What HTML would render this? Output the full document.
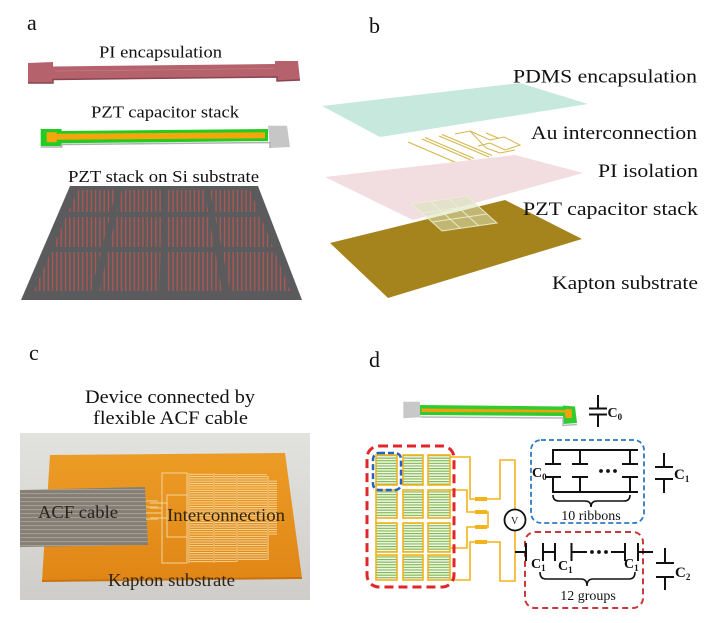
<!DOCTYPE html>
<html><head><meta charset="utf-8"><style>
html,body{margin:0;padding:0;background:#fff;}
svg{display:block;}
text{font-family:"Liberation Serif","Times New Roman",serif;fill:#111;}
</style></head><body>
<svg width="720" height="623" viewBox="0 0 720 623" xmlns="http://www.w3.org/2000/svg" font-family="Liberation Serif, serif">
<defs>
<pattern id="rs" width="4.3" height="10" patternUnits="userSpaceOnUse"><rect x="0.4" width="1.2" height="10" fill="#b85650"/></pattern>
<pattern id="gs" width="10" height="2.6" patternUnits="userSpaceOnUse"><rect width="10" height="2.6" fill="#f3f8ec"/><rect width="10" height="1.1" fill="#7db64a"/></pattern>
<pattern id="cs" width="10" height="2.3" patternUnits="userSpaceOnUse"><rect width="10" height="0.9" fill="#f6dba6"/></pattern>
<pattern id="ac" width="10" height="4" patternUnits="userSpaceOnUse"><rect width="10" height="4" fill="#857e74"/><rect y="1" width="10" height="1.1" fill="#a59e94"/></pattern>
<linearGradient id="bg" x1="0" y1="0" x2="0" y2="1"><stop offset="0" stop-color="#e2e2df"/><stop offset="1" stop-color="#cfcdc9"/></linearGradient>
<linearGradient id="kp" x1="0" y1="0" x2="0" y2="1"><stop offset="0" stop-color="#ec9c26"/><stop offset="1" stop-color="#e08616"/></linearGradient>
</defs>

<!-- ============ PANEL A ============ -->
<text x="27" y="30" font-size="22">a</text>
<text x="99" y="57.5" font-size="17" textLength="123" lengthAdjust="spacingAndGlyphs">PI encapsulation</text>
<polygon points="28,63 53,62 53,66.5 275,64 275,61 298,61 300,80 277,81 277,77 53,79.5 53,83.5 28,83.5" fill="#b5626c"/>
<polyline points="28,83 53,83 53,79.5 277,77 277,81 300,80" fill="none" stroke="#8a4550" stroke-width="1.5"/>
<line x1="55" y1="71" x2="274" y2="68.5" stroke="#c07a82" stroke-width="0.8"/>

<text x="91" y="117.5" font-size="17" textLength="148" lengthAdjust="spacingAndGlyphs">PZT capacitor stack</text>
<polygon points="268,125.7 287,125.7 290,147 270,148" fill="#c6c6c6"/>
<polygon points="40.7,129 61.7,129 61.7,131 268,129 268,141 61.7,143.3 61.7,146 40.7,146" fill="#22cc22"/>
<polyline points="40.7,147 61.7,147 61.7,144.5 270,142.5 270,148" fill="none" stroke="#b0b0b0" stroke-width="1.5"/>
<polygon points="46.7,132.3 56.7,132.3 56.7,133.7 265,132.3 265,138.3 56.7,139.7 56.7,142.3 46.7,142.3" fill="#f5a60c"/>

<text x="68" y="182" font-size="17" textLength="191" lengthAdjust="spacingAndGlyphs">PZT stack on Si substrate</text>
<polygon points="70,186 258,186 302,300 21,300" fill="#5b5b5d"/>
<g fill="url(#rs)">
<polygon points="77.7,190 116.3,190 110.9,212 68.2,212"/>
<polygon points="121.7,190 162.2,190 161.6,212 116.9,212"/>
<polygon points="166.6,190 204.4,190 208.3,212 166.6,212"/>
<polygon points="209.8,190 250.2,190 259,212 214.3,212"/>
<polygon points="66,217 109.6,217 102.1,247 52.9,247"/>
<polygon points="115.7,217 161.4,217 160.6,247 109,247"/>
<polygon points="166.5,217 209.1,217 214.4,247 166.3,247"/>
<polygon points="215.2,217 260.9,217 272.8,247 221.3,247"/>
<polygon points="50.8,252 100.9,252 91.3,291 33.8,291"/>
<polygon points="108,252 160.5,252 159.4,291 99.3,291"/>
<polygon points="166.3,252 215.3,252 222.1,291 166.1,291"/>
<polygon points="222.3,252 274.8,252 290.3,291 230.2,291"/>
</g>

<!-- ============ PANEL B ============ -->
<text x="369" y="33" font-size="22">b</text>
<polygon points="322,106 520,83 588,104 380,137" fill="#c7e8dc"/>
<text x="513" y="82.5" font-size="19" textLength="184" lengthAdjust="spacingAndGlyphs">PDMS encapsulation</text>

<g stroke="#d4b548" stroke-width="1" fill="none">
<line x1="408" y1="142" x2="457" y2="163"/>
<line x1="422" y1="139" x2="471" y2="160"/>
<line x1="425" y1="137.5" x2="474" y2="158.5"/>
<line x1="439" y1="136" x2="489" y2="157"/>
<line x1="442" y1="134.5" x2="492" y2="155.5"/>
<polyline points="455,134 470,131 490,140 504,137 520,145 505,150 490,143 478,146"/>
<polyline points="470,131 486,148 500,153 515,150"/>
<line x1="486" y1="133" x2="498" y2="138"/>
</g>
<text x="531" y="139" font-size="19" textLength="166" lengthAdjust="spacingAndGlyphs">Au interconnection</text>

<polygon points="325,177 515,155 583,173 413,220" fill="#f2dde0"/>
<text x="598" y="177" font-size="19" textLength="100" lengthAdjust="spacingAndGlyphs">PI isolation</text>

<polygon points="330,243 505,200 582,239 388,298" fill="#a6841d"/>
<polygon points="412,204 467,196 497,223 442,231" fill="rgba(215,225,185,0.55)"/>
<g stroke="#eef0d0" stroke-width="1" fill="none" opacity="0.9">
<line x1="430.3" y1="201.3" x2="460.3" y2="228.3"/>
<line x1="448.7" y1="198.7" x2="478.7" y2="225.7"/>
<line x1="422" y1="213" x2="477" y2="205"/>
<line x1="432" y1="222" x2="487" y2="214"/>
<polygon points="412,204 467,196 497,223 442,231"/>
</g>
<text x="523" y="215" font-size="19" textLength="175" lengthAdjust="spacingAndGlyphs">PZT capacitor stack</text>
<text x="552" y="289" font-size="19" textLength="146" lengthAdjust="spacingAndGlyphs">Kapton substrate</text>

<!-- ============ PANEL C ============ -->
<text x="29" y="360" font-size="22">c</text>
<text x="85" y="403" font-size="19" textLength="170" lengthAdjust="spacingAndGlyphs">Device connected by</text>
<text x="93" y="424" font-size="19" textLength="155" lengthAdjust="spacingAndGlyphs">flexible ACF cable</text>
<rect x="20" y="433" width="290" height="167" fill="url(#bg)"/>
<polygon points="50,455 285,453 302,578 42,581" fill="url(#kp)"/>
<polyline points="42,581 302,578" stroke="#c87312" stroke-width="2" fill="none"/>
<g stroke="#f2d49a" stroke-width="1" fill="none">
<rect x="162" y="473" width="25" height="90"/>
<rect x="167" y="495" width="20" height="42"/>
<line x1="150" y1="503" x2="167" y2="503"/>
<line x1="150" y1="508" x2="162" y2="508"/>
<line x1="150" y1="513" x2="162" y2="513"/>
<line x1="150" y1="518" x2="167" y2="518"/>
<line x1="189" y1="473" x2="189" y2="563"/>
<line x1="214" y1="473" x2="214" y2="563"/>
<line x1="237" y1="474" x2="237" y2="562"/>
<line x1="268" y1="476" x2="268" y2="560"/>
</g>
<rect x="190" y="473" width="23" height="90" fill="url(#cs)"/>
<rect x="215" y="474" width="21" height="88" fill="url(#cs)"/>
<rect x="238" y="474" width="29" height="86" fill="url(#cs)"/>
<rect x="269" y="480" width="8" height="55" fill="url(#cs)"/>
<polygon points="20,490 145,487 148,545 20,547" fill="url(#ac)"/>
<g stroke="#e8c27a" stroke-width="1.4">
<line x1="146" y1="501" x2="158" y2="501"/>
<line x1="146" y1="507" x2="158" y2="507"/>
<line x1="146" y1="513" x2="158" y2="513"/>
<line x1="146" y1="519" x2="158" y2="519"/>
</g>
<text x="38" y="518" font-size="18" textLength="80" lengthAdjust="spacingAndGlyphs" style="fill:#262320">ACF cable</text>
<text x="167" y="521" font-size="18" textLength="118" lengthAdjust="spacingAndGlyphs" style="fill:#2e2412">Interconnection</text>
<text x="108" y="586" font-size="18" textLength="127" lengthAdjust="spacingAndGlyphs" style="fill:#2e2412">Kapton substrate</text>

<!-- ============ PANEL D ============ -->
<text x="369" y="367" font-size="22">d</text>
<polygon points="403.3,401.7 420,401.7 420.7,417.3 403.3,418.3" fill="#c8c8c8"/>
<polygon points="420,405 563,406.5 563,405.5 575,406.5 577,423 563,424 563,416 420,415" fill="#2ecc2e"/>
<polyline points="420.7,417 563,418 563,425.5 577,424.5" fill="none" stroke="#b8b8b8" stroke-width="1.4"/>
<polygon points="421.5,408.5 565,410 565,412.5 421.5,412" fill="#f0a20e"/>
<rect x="565" y="409" width="7" height="9" rx="2" fill="#f0a20e"/>
<g stroke="#111" stroke-width="2">
<line x1="598" y1="395" x2="598" y2="408.5"/>
<line x1="589" y1="408.5" x2="607" y2="408.5"/>
<line x1="589" y1="414.5" x2="607" y2="414.5"/>
<line x1="598" y1="414.5" x2="598" y2="427"/>
</g>
<text x="607.5" y="417" font-size="14" font-weight="bold">C<tspan font-size="9" dy="3">0</tspan></text>

<g stroke="#f2b31b" stroke-width="1.6" fill="url(#gs)">
<rect x="376" y="455" width="21" height="30"/><rect x="403" y="455" width="20" height="30"/><rect x="428" y="455" width="22" height="30"/>
<rect x="376" y="490" width="21" height="28"/><rect x="403" y="490" width="20" height="28"/><rect x="428" y="490" width="22" height="28"/>
<rect x="376" y="523" width="21" height="29"/><rect x="403" y="523" width="20" height="29"/><rect x="428" y="523" width="22" height="29"/>
<rect x="376" y="555" width="21" height="25"/><rect x="403" y="555" width="20" height="25"/><rect x="428" y="555" width="22" height="25"/>
</g>
<g stroke="#f2b31b" stroke-width="1.6" fill="none">
<line x1="376" y1="485" x2="376" y2="490"/><line x1="376" y1="518" x2="376" y2="523"/><line x1="376" y1="552" x2="376" y2="555"/>
<polyline points="450,457 470,457 470,499 488,499"/>
<polyline points="450,490 467,490 467,512 488,512 488,527 467,527 467,548 450,548"/>
<polyline points="450,580 470,580 470,542 488,542"/>
<polyline points="488,499 500,499 500,460 515,460 515,581 500,581 500,542 488,542"/>
</g>
<g stroke="#f2b31b" stroke-width="4">
<line x1="475" y1="499" x2="487" y2="499"/><line x1="475" y1="512" x2="487" y2="512"/>
<line x1="475" y1="527" x2="487" y2="527"/><line x1="475" y1="542" x2="487" y2="542"/>
</g>
<circle cx="515" cy="520" r="10.5" fill="#fff" stroke="#111" stroke-width="1.8"/>
<text x="511" y="524" font-size="10">V</text>

<rect x="367" y="446" width="87" height="141" rx="12" fill="none" stroke="#e0262b" stroke-width="3" stroke-dasharray="9,5"/>
<rect x="373" y="453" width="28" height="37" rx="6" fill="none" stroke="#2462bf" stroke-width="2.5" stroke-dasharray="6,3"/>

<rect x="531" y="440" width="113" height="83" rx="10" fill="none" stroke="#2b7bc4" stroke-width="1.8" stroke-dasharray="5,3"/>
<g stroke="#111" stroke-width="2" fill="none">
<polyline points="553,464 553,450 638,450"/>
<line x1="580" y1="450" x2="580" y2="464"/>
<line x1="630" y1="450" x2="630" y2="464"/>
<line x1="545" y1="464" x2="561" y2="464"/><line x1="572" y1="464" x2="588" y2="464"/><line x1="622" y1="464" x2="638" y2="464"/>
<line x1="545" y1="477" x2="561" y2="477"/><line x1="572" y1="477" x2="588" y2="477"/><line x1="622" y1="477" x2="638" y2="477"/>
<polyline points="553,477 553,492 638,492"/>
<line x1="580" y1="477" x2="580" y2="492"/>
<line x1="630" y1="477" x2="630" y2="492"/>
<path d="M553,495 Q553,501 559,501 L585,501 Q591,501 591,507 Q591,501 597,501 L624,501 Q630,501 630,495" stroke-width="1.6"/>
</g>
<g fill="#111"><circle cx="601" cy="471" r="1.9"/><circle cx="608" cy="471" r="1.9"/><circle cx="615" cy="471" r="1.9"/></g>
<text x="532" y="477" font-size="14" font-weight="bold">C<tspan font-size="9" dy="3">0</tspan></text>
<text x="591" y="520" font-size="14" text-anchor="middle">10 ribbons</text>

<g stroke="#111" stroke-width="2">
<line x1="664" y1="453" x2="664" y2="467"/>
<line x1="655" y1="467" x2="673" y2="467"/>
<line x1="655" y1="479" x2="673" y2="479"/>
<line x1="664" y1="479" x2="664" y2="493"/>
</g>
<text x="674" y="479" font-size="15" font-weight="bold">C<tspan font-size="9" dy="3">1</tspan></text>

<rect x="525" y="532" width="118" height="76" rx="10" fill="none" stroke="#c9383a" stroke-width="2" stroke-dasharray="6,4"/>
<g stroke="#111" stroke-width="2" fill="none">
<line x1="515" y1="552" x2="526" y2="552"/>
<line x1="526" y1="543" x2="526" y2="561"/>
<line x1="543" y1="543" x2="543" y2="561"/>
<line x1="543" y1="552" x2="555" y2="552"/>
<line x1="555" y1="543" x2="555" y2="561"/>
<line x1="571.5" y1="543" x2="571.5" y2="561"/>
<line x1="571.5" y1="552" x2="587" y2="552"/>
<line x1="611" y1="552" x2="625" y2="552"/>
<line x1="625" y1="543" x2="625" y2="561"/>
<line x1="638" y1="543" x2="638" y2="561"/>
<line x1="638" y1="552" x2="653" y2="552"/>
<path d="M540,572 Q540,579 546,579 L581,579 Q587,579 587,586 Q587,579 593,579 L629,579 Q635,579 635,572" stroke-width="1.6"/>
</g>
<g fill="#111"><circle cx="592" cy="552" r="1.9"/><circle cx="599" cy="552" r="1.9"/><circle cx="606" cy="552" r="1.9"/></g>
<text x="531" y="568" font-size="14" font-weight="bold">C<tspan font-size="9" dy="3">1</tspan></text>
<text x="558" y="570" font-size="14" font-weight="bold">C<tspan font-size="9" dy="3">1</tspan></text>
<text x="624" y="568" font-size="14" font-weight="bold">C<tspan font-size="9" dy="3">1</tspan></text>
<text x="588" y="600" font-size="14" text-anchor="middle">12 groups</text>

<g stroke="#111" stroke-width="2">
<line x1="665" y1="548" x2="665" y2="563"/>
<line x1="656" y1="563" x2="674" y2="563"/>
<line x1="656" y1="577" x2="674" y2="577"/>
<line x1="665" y1="577" x2="665" y2="590"/>
</g>
<text x="675" y="577" font-size="15" font-weight="bold">C<tspan font-size="9" dy="3">2</tspan></text>
</svg>
</body></html>
